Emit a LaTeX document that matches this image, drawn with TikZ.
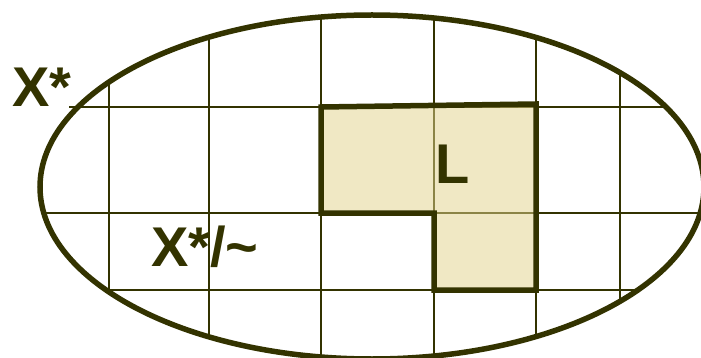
\documentclass[tikz,border=0pt]{standalone}
\usepackage{fontspec}
\setmainfont{Liberation Sans}
\definecolor{ink}{RGB}{51,51,0}
\definecolor{lfill}{RGB}{225,210,139}
\tikzset{
  gridline/.style={draw=ink, line width=2.2pt},
  bigline/.style={draw=ink, line width=5.5pt},
  lbl/.style={text=ink, inner sep=0pt, anchor=base west, font=\fontsize{56}{60}\selectfont\bfseries}
}
\begin{document}
\begin{tikzpicture}[x=1pt,y=-1pt]
\useasboundingbox (0,0) rectangle (701,358);
\begin{scope}
  \clip (372,187) ellipse [x radius=332, y radius=172];
  \foreach \xx in {109,209,321,434,536,620}
    \draw[gridline] (\xx,0) -- (\xx,358);
  \foreach \yy in {213,290}
    \draw[gridline] (0,\yy) -- (710,\yy);
\end{scope}
\draw[gridline] (69,107) -- (666,107);
\fill[lfill, fill opacity=0.51] (321,107) -- (536,104) -- (536,290) -- (434,290) -- (434,213) -- (321,213) -- cycle;
\draw[bigline, line join=miter] (321,107) -- (536,104) -- (536,290) -- (434,290) -- (434,213) -- (321,213) -- cycle;
\draw[bigline] (372,187) ellipse [x radius=332, y radius=172];
\node[lbl] (xstar) at (12,107) {X*};
\node[lbl] (xquot) at (151,266) {X*/\textasciitilde};
\node[lbl] (lset) at (435,184) {L};
\end{tikzpicture}
\end{document}
